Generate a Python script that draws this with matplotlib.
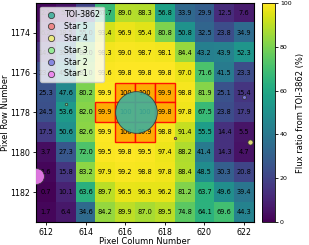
import numpy as np
import matplotlib
matplotlib.use("Agg")
import matplotlib.pyplot as plt
from matplotlib.patches import Rectangle
from matplotlib.lines import Line2D

# pixel grid
cols = [612, 613, 614, 615, 616, 617, 618, 619, 620, 621, 622]
rows = [1173, 1174, 1175, 1176, 1177, 1178, 1179, 1180, 1181, 1182, 1183]

# flux ratio (%) per pixel, one list per row
r1173 = [2.1, 5.3, 20.4, 67.7, 89.0, 88.3, 56.8, 33.9, 29.9, 12.5, 7.6]
r1174 = [6.2, 18.5, 55.0, 93.4, 96.9, 95.4, 80.8, 50.8, 32.5, 23.8, 34.9]
r1175 = [14.0, 35.0, 80.0, 98.3, 99.0, 98.7, 98.1, 84.4, 43.2, 43.9, 52.3]
r1176 = [23.5, 45.6, 83.0, 99.6, 99.8, 99.8, 99.8, 97.0, 71.6, 41.5, 23.3]
r1177 = [25.3, 47.6, 80.2, 99.9, 100, 100, 99.9, 98.8, 81.9, 25.1, 15.4]
r1178 = [24.5, 53.6, 82.0, 99.9, 100, 100, 99.8, 97.8, 67.5, 23.8, 17.9]
r1179 = [17.5, 50.6, 82.6, 99.9, 100, 99.9, 98.8, 91.4, 55.5, 14.4, 5.5]
r1180 = [3.7, 27.3, 72.0, 99.5, 99.8, 99.5, 97.4, 88.2, 41.4, 14.3, 4.7]
r1181 = [1.6, 15.8, 83.2, 97.9, 99.2, 98.8, 97.8, 88.4, 48.5, 30.3, 20.8]
r1182 = [0.7, 10.1, 63.6, 89.7, 96.5, 96.3, 96.2, 81.2, 63.7, 49.6, 39.4]
r1183 = [1.7, 6.4, 34.6, 84.2, 89.9, 87.0, 89.5, 74.8, 64.1, 69.6, 44.3]

# aperture pixels (column, row)
aperture = [(616, 1177), (617, 1177), (618, 1177),
            (615, 1178), (616, 1178), (617, 1178), (618, 1178),
            (616, 1179), (617, 1179)]

# target and nearby stars
star_names = ['TOI-3862', 'Star 5', 'Star 4', 'Star 3', 'Star 2', 'Star 1']
star_x = [616.55, 618.5, 622.3, 613.0, 622.0, 611.5]
star_y = [1178.0, 1179.3, 1179.5, 1177.6, 1177.2, 1181.2]
star_s = [900, 3, 14, 3, 8, 130]
star_colors = ['#3fb09c', 'lightcoral', '#eeee77', 'lightgreen', '#7f7fe0', 'violet']

grid = np.array([r1173, r1174, r1175, r1176, r1177, r1178,
                 r1179, r1180, r1181, r1182, r1183])

fig = plt.figure(figsize=(3.09, 2.45), dpi=100)
ax = fig.add_axes([0.1165, 0.094, 0.7055, 0.894])
cax = fig.add_axes([0.848, 0.094, 0.042, 0.894])

im = ax.imshow(grid, cmap='viridis', vmin=0, vmax=100, origin='upper',
               extent=(cols[0] - 0.5, cols[-1] + 0.5, rows[-1] + 0.5, rows[0] - 0.5),
               aspect='auto')

for i, r in enumerate(rows):
    for j, c in enumerate(cols):
        v = grid[i, j]
        txt = '100' if v >= 100 else f'{v:.1f}'
        ax.text(c, r, txt, ha='center', va='center', fontsize=4.8, color='black', zorder=3)

for c, r in aperture:
    ax.add_patch(Rectangle((c - 0.5, r - 0.5), 1, 1, facecolor='orange', alpha=0.9,
                           edgecolor='red', lw=1.0, zorder=2))

for name, x, y, s, col in zip(star_names, star_x, star_y, star_s, star_colors):
    ax.scatter(x, y, s=s, color=col, edgecolor='#333333', linewidth=0.6,
               alpha=0.9, zorder=4)

handles = [Line2D([], [], marker='o', ls='', markersize=4.5, markerfacecolor=col,
                  markeredgecolor='#333333', markeredgewidth=0.6, alpha=0.9)
           for col in star_colors]
ax.legend(handles, star_names, loc='upper left', fontsize=5.7, framealpha=0.8,
          labelspacing=0.35, borderpad=0.45, handletextpad=0.6)

ax.set_xlim(cols[0] - 0.5, cols[-1] + 0.5)
ax.set_ylim(rows[-1] + 0.5, rows[0] - 0.5)
ax.set_xticks([612, 614, 616, 618, 620, 622])
ax.set_yticks([1174, 1176, 1178, 1180, 1182])
ax.tick_params(labelsize=5.7, length=2.5, width=0.6, pad=1.5)
ax.set_xlabel('Pixel Column Number', fontsize=6, labelpad=0.5)
ax.set_ylabel('Pixel Row Number', fontsize=6, labelpad=0.5)

cb = fig.colorbar(im, cax=cax)
cb.set_label('Flux ratio from TOI-3862 (%)', fontsize=6, labelpad=3)
cb.ax.tick_params(labelsize=4.5, length=2, width=0.6, pad=1.5)
cb.outline.set_linewidth(0.6)

fig.savefig('out.png', dpi=100)
